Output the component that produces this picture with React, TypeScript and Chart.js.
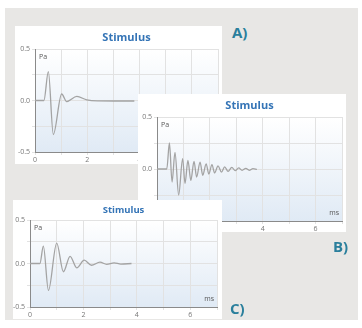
import React, { useEffect, useRef } from 'react';
import { Chart, registerables } from 'chart.js';

Chart.register(...registerables);

// ---- data (ms, Pa) ----
const timesA = [0, 0.34, 0.51, 0.70, 1.02, 1.21, 1.6, 1.98, 2.4, 3.0, 3.8];
const valuesA = [0, 0, 0.28, -0.33, 0.063, -0.01, 0.04, 0.006, -0.004, -0.005, -0.005];

const timesB = [0, 0.37, 0.47, 0.57, 0.68, 0.82, 0.97, 1.06, 1.17, 1.28, 1.40, 1.50, 1.63, 1.73, 1.86, 1.96, 2.08, 2.18, 2.31, 2.44, 2.56, 2.69, 2.83, 2.96, 3.09, 3.22, 3.36, 3.49, 3.63, 3.78];
const valuesB = [0, 0, 0.25, -0.125, 0.16, -0.25, 0.10, -0.14, 0.083, -0.11, 0.074, -0.077, 0.067, -0.06, 0.05, -0.048, 0.042, -0.038, 0.03, -0.03, 0.02, -0.022, 0.016, -0.016, 0.01, -0.013, 0.006, -0.013, 0.003, -0.003];

const timesC = [0, 0.37, 0.50, 0.69, 1.0, 1.25, 1.5, 1.75, 2.03, 2.3, 2.62, 2.87, 3.15, 3.4, 3.8];
const valuesC = [0, 0, 0.20, -0.31, 0.235, -0.095, 0.083, -0.05, 0.038, -0.02, 0.015, -0.01, 0.008, -0.007, 0];

const xLabelValues = [0, 2, 4, 6];
const yLabelValues = [-0.5, 0, 0.5];
const chartTitle = 'Stimulus';
const yUnit = 'Pa';
const xUnit = 'ms';

const FONT = "'Open Sans', 'Liberation Sans', sans-serif";

type PanelProps = {
  left: number; top: number; width: number; height: number;
  yAxisWidth: number; xAxisHeight: number; padRight: number; chartTop: number;
  titleSize: number; titleY: number;
  times: number[]; values: number[];
};

const makePlugin = (titleSize: number, titleY: number) => ({
  id: 'plotDecor',
  beforeDraw(chart: any) {
    const { ctx, chartArea } = chart;
    if (!chartArea) return;
    const { left, top, right, bottom } = chartArea;
    const g = ctx.createLinearGradient(0, top, 0, bottom);
    g.addColorStop(0, '#ffffff');
    g.addColorStop(1, '#e0eaf5');
    ctx.save();
    ctx.fillStyle = g;
    ctx.fillRect(left, top, right - left, bottom - top);
    ctx.restore();
  },
  afterDraw(chart: any) {
    const { ctx, chartArea } = chart;
    const { left, top, right, bottom } = chartArea;
    ctx.save();
    ctx.fillStyle = '#3474b6';
    ctx.font = `bold ${titleSize}px ${FONT}`;
    ctx.textBaseline = 'middle';
    ctx.textAlign = 'center';
    ctx.fillText(chartTitle, (left + right) / 2, titleY);
    ctx.fillStyle = '#555';
    ctx.font = `7px ${FONT}`;
    ctx.textAlign = 'left';
    ctx.fillText(yUnit, left + 4, top + 8);
    ctx.textAlign = 'right';
    ctx.fillText(xUnit, right - 3, bottom - 8);
    ctx.restore();
  },
});

function Panel(p: PanelProps) {
  const ref = useRef<HTMLCanvasElement>(null);
  useEffect(() => {
    if (!ref.current) return;
    const chart = new Chart(ref.current, {
      type: 'line',
      data: {
        datasets: [{
          data: p.times.map((t, i) => ({ x: t, y: p.values[i] })),
          borderColor: '#a3a3a3',
          borderWidth: 1.3,
          pointRadius: 0,
          cubicInterpolationMode: 'monotone',
          fill: false,
        }],
      },
      options: {
        animation: false,
        responsive: false,
        devicePixelRatio: 1,
        layout: { padding: { left: 0, right: p.padRight, top: p.chartTop, bottom: 0 } },
        plugins: {
          legend: { display: false },
          tooltip: { enabled: false },
          title: { display: false },
        },
        scales: {
          x: {
            type: 'linear',
            min: 0, max: 7,
            afterFit: (s: any) => { s.height = p.xAxisHeight; },
            ticks: {
              stepSize: 1,
              autoSkip: false,
              maxRotation: 0,
              padding: 1,
              color: '#777',
              font: { family: FONT, size: 7 },
              callback: (v: any) => (xLabelValues.includes(Number(v)) ? String(v) : ''),
            },
            grid: { color: '#e2e2e2', tickLength: 3, lineWidth: 1 },
            border: { color: '#8a8a8a', width: 1 },
          },
          y: {
            type: 'linear',
            min: -0.5, max: 0.5,
            afterFit: (s: any) => { s.width = p.yAxisWidth; },
            ticks: {
              stepSize: 0.25,
              autoSkip: false,
              padding: 2,
              color: '#777',
              font: { family: FONT, size: 7 },
              callback: (v: any) => (yLabelValues.includes(Number(v)) ? Number(v).toFixed(1) : ''),
            },
            grid: { color: '#e2e2e2', tickLength: 3, lineWidth: 1 },
            border: { color: '#8a8a8a', width: 1 },
          },
        },
      },
      plugins: [makePlugin(p.titleSize, p.titleY)],
    } as any);
    return () => chart.destroy();
  }, []);
  return (
    <div style={{ position: 'absolute', left: p.left, top: p.top, width: p.width, height: p.height, background: '#fff' }}>
      <canvas ref={ref} width={p.width} height={p.height} style={{ display: 'block', width: p.width, height: p.height }} />
    </div>
  );
}

const labelStyle: React.CSSProperties = {
  position: 'absolute',
  fontFamily: FONT,
  fontWeight: 'bold',
  fontSize: 15,
  lineHeight: 1,
  color: '#2a7f9c',
};

export default function App() {
  return (
    <div style={{ position: 'fixed', left: 0, top: 0, width: 362, height: 328, background: '#fff', overflow: 'hidden' }}>
      <div style={{ position: 'absolute', left: 5, top: 8, width: 353, height: 312, background: '#e8e7e5' }} />
      <Panel left={15} top={26} width={207} height={138} yAxisWidth={20} xAxisHeight={12} padRight={4}
        chartTop={23} titleSize={11} titleY={12} times={timesA} values={valuesA} />
      <Panel left={138} top={94} width={208} height={138} yAxisWidth={19} xAxisHeight={11} padRight={4}
        chartTop={23} titleSize={11} titleY={12} times={timesB} values={valuesB} />
      <Panel left={13} top={200} width={209} height={119} yAxisWidth={17} xAxisHeight={12} padRight={5}
        chartTop={20} titleSize={9.5} titleY={10} times={timesC} values={valuesC} />
      <div style={{ ...labelStyle, left: 232, top: 25 }}>A)</div>
      <div style={{ ...labelStyle, left: 333, top: 239 }}>B)</div>
      <div style={{ ...labelStyle, left: 230, top: 301 }}>C)</div>
    </div>
  );
}
